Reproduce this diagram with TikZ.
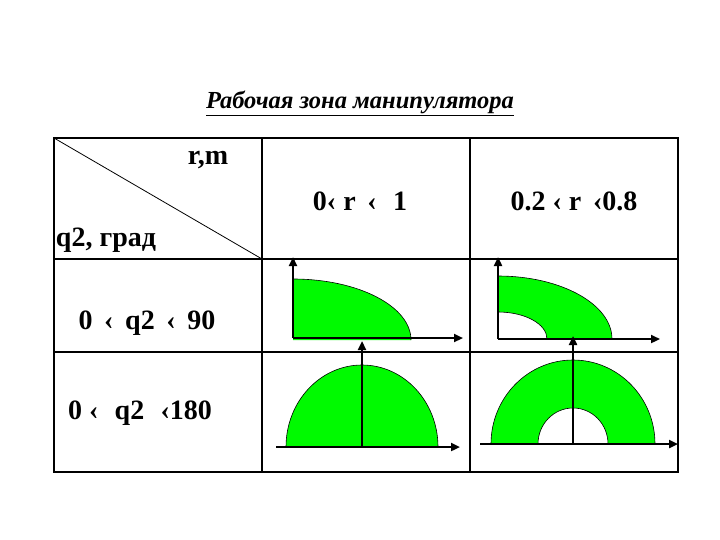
\documentclass[tikz,border=0pt]{standalone}
\usepackage{fontspec}
\setmainfont{Liberation Serif}
\usetikzlibrary{arrows.meta}
\definecolor{zone}{RGB}{0,250,0}
\tikzset{
  lbl/.style={font=\fontsize{28}{30}\selectfont\bfseries, inner sep=0pt},
  ttl/.style={font=\fontsize{24.5}{26}\selectfont\bfseries\itshape, inner sep=0pt},
  frame/.style={line width=2pt},
  grid/.style={line width=1.2pt},
  axis/.style={line width=2.3pt, -{Triangle[length=9pt,width=8pt]}},
  edge/.style={line width=0.6pt},
  area/.style={fill=zone}
}
\begin{document}
\begin{tikzpicture}[x=1pt,y=-1pt]
\useasboundingbox (0,0) rectangle (720,540);
% table
\coordinate (tl) at (54,138);
\coordinate (br) at (678,472);
\draw[grid] (54,259) -- (678,259);
\draw[grid] (54,352) -- (678,352);
\draw[grid] (262,138) -- (262,472);
\draw[grid] (470,138) -- (470,472);
\draw[line width=0.8pt] (tl) -- (262,259);
\draw[frame] (tl) rectangle (br);
% title
\node[ttl] (title) at (360,103) {\underline{Рабочая зона манипулятора}};
% labels
\node[lbl] (rm) at (208,160) {r,m};
\node[lbl] (qg) at (106,240) {q2, град};
\node[lbl] (q90) at (147,323) {0 \,‹\, q2 \,‹\, 90};
\node[lbl] (q180) at (140,413) {0 ‹\,\, q2 \,\,‹180};
\node[lbl] (r1) at (360,201) {0‹ r \,‹\,\, 1};
\node[lbl] (r2) at (574,201) {0.2 ‹ r \,‹0.8};
% cell 1-1: quarter ellipse
\fill[area] (293,340) -- (293,279) arc[start angle=-90,end angle=0,x radius=118,y radius=61] -- cycle;
\draw[edge] (293,279) arc[start angle=-90,end angle=0,x radius=118,y radius=61];
\coordinate (o11) at (293,338);
\coordinate (x11) at (463,338);
\coordinate (y11) at (293,257);
\draw[axis] (o11) -- (x11);
\draw[axis] (o11) -- (y11);
% cell 1-2: quarter annulus
\fill[area] (612,339) arc[start angle=0,end angle=-90,x radius=114,y radius=63]
  -- (498,312) arc[start angle=-90,end angle=0,x radius=49,y radius=27] -- cycle;
\draw[edge] (612,339) arc[start angle=0,end angle=-90,x radius=114,y radius=63];
\draw[edge] (498,312) arc[start angle=-90,end angle=0,x radius=49,y radius=27];
\coordinate (o12) at (498,339);
\coordinate (x12) at (660,339);
\coordinate (y12) at (498,257);
\draw[axis] (o12) -- (x12);
\draw[axis] (o12) -- (y12);
% cell 2-1: half ellipse
\fill[area] (286,447) arc[start angle=180,end angle=360,x radius=76,y radius=82] -- cycle;
\draw[edge] (286,447) arc[start angle=180,end angle=360,x radius=76,y radius=82];
\coordinate (o21) at (362,447);
\coordinate (l21) at (276,447);
\coordinate (x21) at (460,447);
\coordinate (y21) at (362,341);
\draw[axis] (l21) -- (x21);
\draw[axis] (o21) -- (y21);
% cell 2-2: half annulus
\fill[area] (491,444) arc[start angle=180,end angle=360,x radius=82,y radius=84]
  -- (608,444) arc[start angle=360,end angle=180,x radius=35,y radius=36] -- cycle;
\draw[edge] (491,444) arc[start angle=180,end angle=360,x radius=82,y radius=84];
\draw[edge] (538,444) arc[start angle=180,end angle=360,x radius=35,y radius=36];
\coordinate (o22) at (573,444);
\coordinate (l22) at (480,444);
\coordinate (x22) at (678,444);
\coordinate (y22) at (573,336);
\draw[axis] (l22) -- (x22);
\draw[axis] (o22) -- (y22);
\end{tikzpicture}
\end{document}
